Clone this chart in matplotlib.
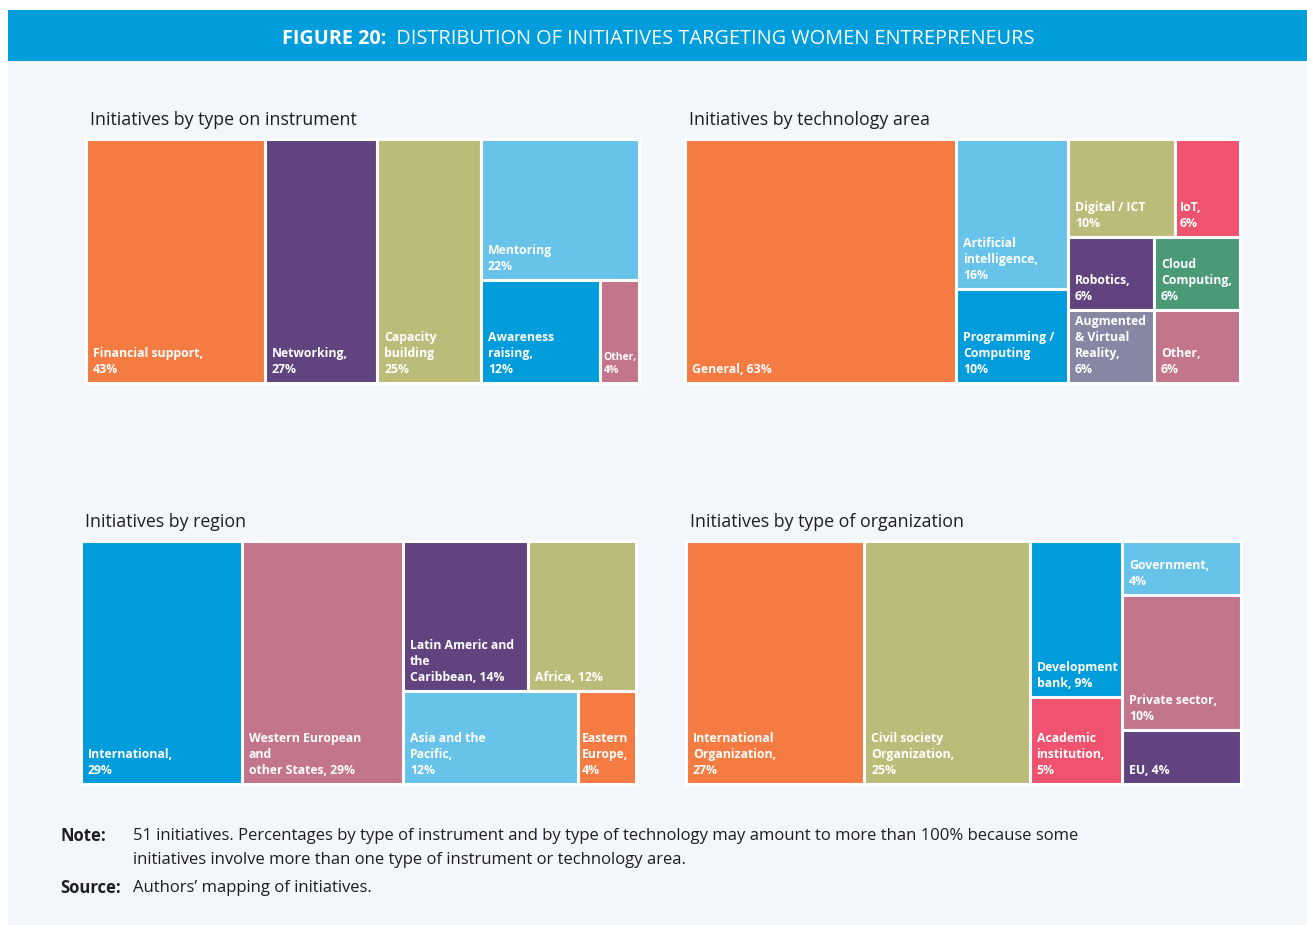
import matplotlib
matplotlib.use('Agg')
import matplotlib.pyplot as plt
from matplotlib.patches import Rectangle

plt.rcParams['font.family'] = ['Open Sans', 'DejaVu Sans']

ORANGE = '#F47B42'
PURPLE = '#61447F'
OLIVE = '#BBBC7A'
SKY = '#67C3EA'
BLUE = '#009CDC'
MAUVE = '#C3758B'
ROSE = '#EF5370'
GREEN = '#4A9A78'
LILAC = '#8786A3'
BG = '#F3F6FB'

# --- data: percentage of the 51 initiatives in each category ---
instrument_names = ['Financial support,\n{}%', 'Networking,\n{}%', 'Capacity\nbuilding\n{}%',
                    'Mentoring\n{}%', 'Awareness\nraising,\n{}%', 'Other,\n{}%']
instrument_values = [43, 27, 25, 22, 12, 4]
instrument_colors = [ORANGE, PURPLE, OLIVE, SKY, BLUE, MAUVE]

tech_names = ['General, {}%', 'Artificial\nintelligence,\n{}%', 'Programming /\nComputing\n{}%',
              'Digital / ICT\n{}%', 'IoT,\n{}%', 'Robotics,\n{}%', 'Cloud\nComputing,\n{}%',
              'Augmented\n& Virtual\nReality,\n{}%', 'Other,\n{}%']
tech_values = [63, 16, 10, 10, 6, 6, 6, 6, 6]
tech_colors = [ORANGE, SKY, BLUE, OLIVE, ROSE, PURPLE, GREEN, LILAC, MAUVE]

region_names = ['International,\n{}%', 'Western European\nand\nother States, {}%',
                'Latin Americ and\nthe\nCaribbean, {}%', 'Africa, {}%',
                'Asia and the\nPacific,\n{}%', 'Eastern\nEurope,\n{}%']
region_values = [29, 29, 14, 12, 12, 4]
region_colors = [BLUE, MAUVE, PURPLE, OLIVE, SKY, ORANGE]

org_names = ['International\nOrganization,\n{}%', 'Civil society\nOrganization,\n{}%',
             'Development\nbank, {}%', 'Academic\ninstitution,\n{}%',
             'Government,\n{}%', 'Private sector,\n{}%', 'EU, {}%']
org_values = [27, 25, 9, 5, 4, 10, 4]
org_colors = [ORANGE, OLIVE, BLUE, ROSE, SKY, MAUVE, PURPLE]

# how the cells are nested: 'h' splits left→right, 'v' splits top→bottom
instrument_tree = ('h', [0, 1, 2, ('v', [3, ('h', [4, 5])])])
tech_tree = ('h', [0, ('v', [1, 2]), ('v', [('h', [3, 4]), ('h', [5, 6]), ('h', [7, 8])])])
region_tree = ('h', [0, 1, ('v', [('h', [2, 3]), ('h', [4, 5])])])
org_tree = ('h', [0, 1, ('v', [2, 3]), ('v', [4, 5, 6])])

W, H = 1307, 925
LABEL_SIZE = 8.8


def subtotal(node, values):
    if isinstance(node, int):
        return values[node]
    return sum(subtotal(k, values) for k in node[1])


def layout(node, values, x0, y0, w, h, out):
    if isinstance(node, int):
        out[node] = (x0, y0, w, h)
        return
    kind, kids = node
    sizes = [subtotal(k, values) for k in kids]
    total = sum(sizes)
    if kind == 'h':
        x = x0
        for k, s in zip(kids, sizes):
            kw = w * s / total
            layout(k, values, x, y0, kw, h, out)
            x += kw
    else:
        y = y0 + h
        for k, s in zip(kids, sizes):
            kh = h * s / total
            y -= kh
            layout(k, values, x0, y, w, kh, out)


def treemap(fig, box, title, names, values, colors, tree):
    left, top, right, bottom = box
    ax = fig.add_axes([left / W, 1 - bottom / H, (right - left) / W, (bottom - top) / H])
    ax.set_xlim(0, 1)
    ax.set_ylim(0, 1)
    ax.axis('off')
    rects = {}
    layout(tree, values, 0, 0, 1, 1, rects)
    renderer = fig.canvas.get_renderer()
    for i, v in enumerate(values):
        x, y, w, h = rects[i]
        ax.add_patch(Rectangle((x, y), w, h, facecolor=colors[i], edgecolor='white',
                               linewidth=2.2, clip_on=False))
        cell_px = w * (right - left)
        pad = 7 if cell_px > 70 else 4
        t = ax.annotate(names[i].format(v), xy=(x, y), xytext=(pad, 7),
                        textcoords='offset pixels', ha='left', va='bottom', color='white',
                        fontsize=LABEL_SIZE, fontweight='bold', linespacing=1.3)
        # shrink the label a little if it would spill past the cell edge
        tw = t.get_window_extent(renderer).width
        room = cell_px - pad - 2
        if tw > room:
            t.set_fontsize(LABEL_SIZE * room / tw)
    fig.text(left / W + 4 / W, 1 - (top - 19) / H, title, ha='left', va='center',
             fontsize=12.8, color='#1E1E1E')
    return ax


fig = plt.figure(figsize=(W / 100, H / 100), dpi=100, facecolor='white')
bg = fig.add_axes([0, 0, 1, 1])
bg.set_xlim(0, W)
bg.set_ylim(H, 0)
bg.axis('off')
bg.add_patch(Rectangle((8, 10), W - 8, H - 10, facecolor=BG, edgecolor='none'))
bg.add_patch(Rectangle((8, 10), W - 8, 51, facecolor='#009DDC', edgecolor='none'))

# header: bold figure number followed by regular caption, centred as a pair
head_a = bg.text(0, 39, 'FIGURE 20:', color='white', fontsize=14.3, fontweight='bold',
                 ha='left', va='center')
head_b = bg.text(0, 39, '  DISTRIBUTION OF INITIATIVES TARGETING WOMEN ENTREPRENEURS',
                 color='white', fontsize=14.3, ha='left', va='center')
r = fig.canvas.get_renderer()
wa = head_a.get_window_extent(r).width
wb = head_b.get_window_extent(r).width
start = 658 - (wa + wb) / 2
head_a.set_x(start)
head_b.set_x(start + wa)

treemap(fig, (86, 139, 639, 383), 'Initiatives by type on instrument',
        instrument_names, instrument_values, instrument_colors, instrument_tree)
treemap(fig, (685, 139, 1240, 383), 'Initiatives by technology area',
        tech_names, tech_values, tech_colors, tech_tree)
treemap(fig, (81, 541, 636, 784), 'Initiatives by region',
        region_names, region_values, region_colors, region_tree)
treemap(fig, (686, 541, 1241, 784), 'Initiatives by type of organization',
        org_names, org_values, org_colors, org_tree)

note_kw = dict(fontsize=12, color='#1E1E1E', ha='left', va='center')
bg.text(60, 836, 'Note:', fontweight='bold', **note_kw)
bg.text(133, 836, '51 initiatives. Percentages by type of instrument and by type of technology '
        'may amount to more than 100% because some', **note_kw)
bg.text(133, 860, 'initiatives involve more than one type of instrument or technology area.',
        **note_kw)
bg.text(60, 888, 'Source:', fontweight='bold', **note_kw)
bg.text(133, 888, 'Authors’ mapping of initiatives.', **note_kw)

fig.savefig('out.png', dpi=100, facecolor='white')
